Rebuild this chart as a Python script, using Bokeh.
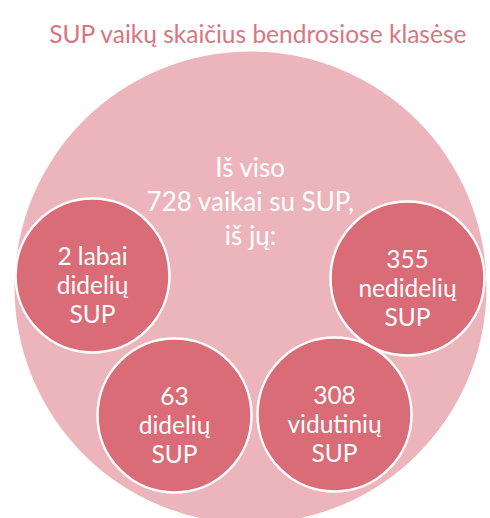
from bokeh.plotting import figure
from bokeh.models import Range1d, ColumnDataSource
from bokeh.core.properties import value
from bokeh.embed import file_html
from bokeh.resources import INLINE

# ---- data ----
title_text = "SUP vaikų skaičius bendrosiose klasėse"
total = 728
center_lines = ["Iš viso", f"{total} vaikai su SUP,", "iš jų:"]
counts = [2, 63, 308, 355]
line1_words = ["labai", "", "", ""]
line2_words = ["didelių", "didelių", "vidutinių", "nedidelių"]
line3_words = ["SUP", "SUP", "SUP", "SUP"]

# ---- layout (pixel-like coordinates) ----
bx = [92, 174, 334, 407]
by = [275, 415, 414, 278]
br = 77
big_x, big_y, big_r = 250, 287, 236

FONT = "Lato"
p = figure(width=490, height=518, output_backend="svg", toolbar_location=None,
           x_range=Range1d(0, 490), y_range=Range1d(518, 0), min_border=0)
p.axis.visible = False
p.grid.visible = False
p.outline_line_color = None
p.background_fill_color = "white"
p.border_fill_color = "white"

p.circle(x=[big_x], y=[big_y], radius=big_r, fill_color="#ECB5BB", line_color=None)

src = ColumnDataSource(dict(x=bx, y=by))
p.circle(x="x", y="y", radius=br, source=src, fill_color="#D96C77",
         line_color="white", line_width=2.5)

# bubble labels
lab_x, lab_y, lab_t = [], [], []
offs = [-20, 9, 38]
for i, c in enumerate(counts):
    l1 = f"{c} {line1_words[i]}".strip()
    for off, t in zip(offs, [l1, line2_words[i], line3_words[i]]):
        lab_x.append(bx[i]); lab_y.append(by[i] + off); lab_t.append(t)
p.text(x=lab_x, y=lab_y, text=lab_t, text_align="center", text_baseline="alphabetic",
       text_color="white", text_font=value(FONT), text_font_size="24.5px")

# center text
p.text(x=[250, 250, 250], y=[166, 200, 234], text=center_lines, text_align="center",
       text_baseline="alphabetic", text_color="white", text_font=value(FONT),
       text_font_size="26px")

# title
p.text(x=[258], y=[33], text=[title_text], text_align="center", text_baseline="alphabetic",
       text_color="#DC7480", text_font=value(FONT), text_font_size="24.5px")

open("out.html", "w").write(file_html(p, INLINE))
